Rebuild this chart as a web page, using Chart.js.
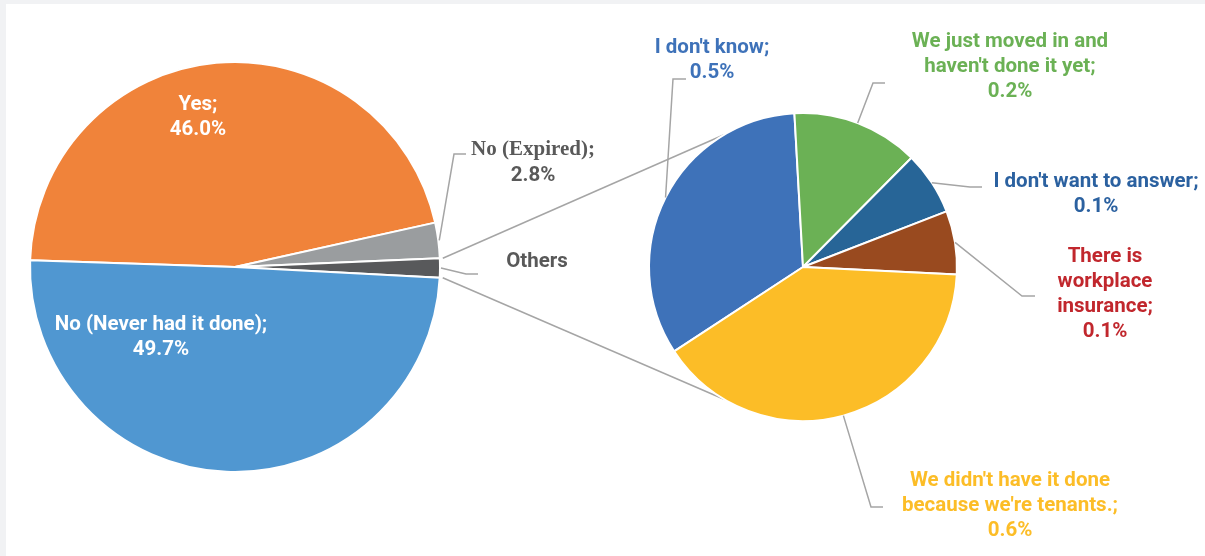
<!DOCTYPE html>
<html>
<head>
<meta charset="utf-8">
<script src="https://cdn.jsdelivr.net/npm/chart.js@4.4.1/dist/chart.umd.min.js"></script>
<style>
  html, body { margin: 0; padding: 0; background: #f1f2f4; }
  #wrap { position: relative; width: 1205px; height: 556px; overflow: hidden; background: #f1f2f4; }
  #panel { position: absolute; left: 6px; top: 4px; right: 0; bottom: 0; background: #ffffff; }
  canvas { position: absolute; left: 0; top: 0; }
</style>
</head>
<body>
<div id="wrap">
  <div id="panel"></div>
  <canvas id="mainPie" width="1205" height="556"></canvas>
  <canvas id="subPie" width="1205" height="556"></canvas>
</div>
<script>
// Main pie: share of households
const mainLabels = ['Yes', 'No (Expired)', 'Others', 'No (Never had it done)'];
const mainValues = [46.0, 2.8, 1.5, 49.7];
const mainColors = ['#f0833a', '#9a9d9f', '#58595b', '#5097d1'];

// Breakdown of "Others"
const subLabels = [
  "I don't know",
  "We just moved in and haven't done it yet",
  "I don't want to answer",
  "There is workplace insurance",
  "We didn't have it done because we're tenants."
];
const subValues = [0.5, 0.2, 0.1, 0.1, 0.6];
const subColors = ['#3e72b9', '#6bb155', '#276597', '#994a1f', '#fcbd27'];
const subTextColors = ['#3e72b9', '#6bb155', '#2b61a0', '#c1272d', '#fcbd27'];

const OTHERS_INDEX = 2;
const LEADER = '#a5a5a5';
const SANS = "bold 20.5px Roboto, 'Open Sans', sans-serif";
const SERIF = "bold 21px 'Liberation Serif', 'DejaVu Serif', serif";
const pct = v => v.toFixed(1) + '%';

// point on an arc's outer edge at a fraction of its angular span
function arcPoint(arc, t, extra) {
  const p = arc.getProps(['x', 'y', 'startAngle', 'endAngle', 'outerRadius'], true);
  const a = p.startAngle + (p.endAngle - p.startAngle) * t;
  const r = p.outerRadius + (extra || 0);
  return { x: p.x + Math.cos(a) * r, y: p.y + Math.sin(a) * r };
}

function textBlock(ctx, lines, cx, y0, lh, fonts, color) {
  ctx.save();
  ctx.fillStyle = color;
  ctx.textAlign = 'center';
  ctx.textBaseline = 'alphabetic';
  lines.forEach((s, i) => {
    ctx.font = Array.isArray(fonts) ? fonts[i] : fonts;
    ctx.fillText(s, cx, y0 + i * lh);
  });
  ctx.restore();
}

function leader(ctx, pts) {
  ctx.save();
  ctx.strokeStyle = LEADER;
  ctx.lineWidth = 1.5;
  ctx.lineJoin = 'miter';
  ctx.beginPath();
  ctx.moveTo(pts[0].x, pts[0].y);
  for (let i = 1; i < pts.length; i++) ctx.lineTo(pts[i].x, pts[i].y);
  ctx.stroke();
  ctx.restore();
}

// label placement for the main pie
const mainLabelLayout = [
  { i: 0, inside: true, lines: ['Yes;'], cx: 198, y0: 110 },
  { i: 3, inside: true, lines: ['No (Never had it done);'], cx: 161, y0: 330 },
  { i: 1, lines: ['No (Expired);'], cx: 533, y0: 155, elbow: [454, 154], end: [466, 154] },
  { i: 2, lines: [], cx: 537, y0: 267, elbow: [466, 274], end: [478, 274], nameOnly: 'Others' }
];

const mainLabelPlugin = {
  id: 'mainLabels',
  afterDatasetsDraw(chart) {
    const ctx = chart.ctx;
    const arcs = chart.getDatasetMeta(0).data;
    mainLabelLayout.forEach(L => {
      const v = mainValues[L.i];
      if (L.inside) {
        textBlock(ctx, L.lines.concat([pct(v)]), L.cx, L.y0, 24.5, SANS, '#ffffff');
        return;
      }
      const s = arcPoint(arcs[L.i], 0.5, 1);
      leader(ctx, [s, { x: L.elbow[0], y: L.elbow[1] }, { x: L.end[0], y: L.end[1] }]);
      if (L.nameOnly) {
        textBlock(ctx, [L.nameOnly], L.cx, L.y0, 25, SANS, '#595959');
      } else {
        textBlock(ctx, L.lines.concat([pct(v)]), L.cx, L.y0, 26, [SERIF, SANS], '#595959');
      }
    });
  }
};

const mainChart = new Chart(document.getElementById('mainPie'), {
  type: 'pie',
  data: {
    labels: mainLabels,
    datasets: [{
      data: mainValues,
      backgroundColor: mainColors,
      borderColor: '#ffffff',
      borderWidth: 2,
      hoverBorderWidth: 2,
      radius: 205,
      rotation: 271.9
    }]
  },
  options: {
    responsive: false,
    animation: false,
    events: [],
    layout: { padding: { left: 0, top: 0, right: 735, bottom: 22 } },
    plugins: { legend: { display: false }, tooltip: { enabled: false } }
  },
  plugins: [mainLabelPlugin]
});

// label placement for the breakdown pie
const subLabelLayout = [
  { lines: ["I don't know;"], cx: 712, y0: 53, elbow: [673, 79], end: [686, 79] },
  { lines: ['We just moved in and', "haven't done it yet;"], cx: 1010, y0: 47, elbow: [873, 83], end: [885, 83] },
  { lines: ["I don't want to answer;"], cx: 1096, y0: 187, elbow: [970, 187], end: [982, 187] },
  { lines: ['There is', 'workplace', 'insurance;'], cx: 1105, y0: 262, elbow: [1022, 296], end: [1035, 296] },
  { lines: ["We didn't have it done", "because we're tenants.;"], cx: 1010, y0: 486, elbow: [871, 507], end: [883, 507] }
];

// angle (deg, either side of the bottom/top axis) where the joining lines meet the breakdown pie
const JOIN_DEG = 30.6;

const subPlugin = {
  id: 'subLabels',
  beforeDatasetsDraw(chart) {
    const ctx = chart.ctx;
    const src = mainChart.getDatasetMeta(0).data[OTHERS_INDEX];
    const first = chart.getDatasetMeta(0).data[0];
    const c = first.getProps(['x', 'y', 'outerRadius'], true);
    const top = arcPoint(src, 0, 3);
    const bot = arcPoint(src, 1, 3);
    // clockwise-from-top angles converted to canvas angles
    const a1 = (360 - JOIN_DEG - 90) * Math.PI / 180;
    const a2 = (180 + JOIN_DEG - 90) * Math.PI / 180;
    const r = c.outerRadius;
    leader(ctx, [top, { x: c.x + Math.cos(a1) * r, y: c.y + Math.sin(a1) * r }]);
    leader(ctx, [bot, { x: c.x + Math.cos(a2) * r, y: c.y + Math.sin(a2) * r }]);
  },
  afterDatasetsDraw(chart) {
    const ctx = chart.ctx;
    const arcs = chart.getDatasetMeta(0).data;
    subLabelLayout.forEach((L, i) => {
      const s = arcPoint(arcs[i], 0.5, 0);
      leader(ctx, [s, { x: L.elbow[0], y: L.elbow[1] }, { x: L.end[0], y: L.end[1] }]);
      textBlock(ctx, L.lines.concat([pct(subValues[i])]), L.cx, L.y0, 25, SANS, subTextColors[i]);
    });
  }
};

new Chart(document.getElementById('subPie'), {
  type: 'pie',
  data: {
    labels: subLabels,
    datasets: [{
      data: subValues,
      backgroundColor: subColors,
      borderColor: '#ffffff',
      borderWidth: 2,
      hoverBorderWidth: 2,
      radius: 154,
      rotation: 236.8
    }]
  },
  options: {
    responsive: false,
    animation: false,
    events: [],
    layout: { padding: { left: 553, top: 0, right: 152, bottom: 22 } },
    plugins: { legend: { display: false }, tooltip: { enabled: false } }
  },
  plugins: [subPlugin]
});
</script>
</body>
</html>
